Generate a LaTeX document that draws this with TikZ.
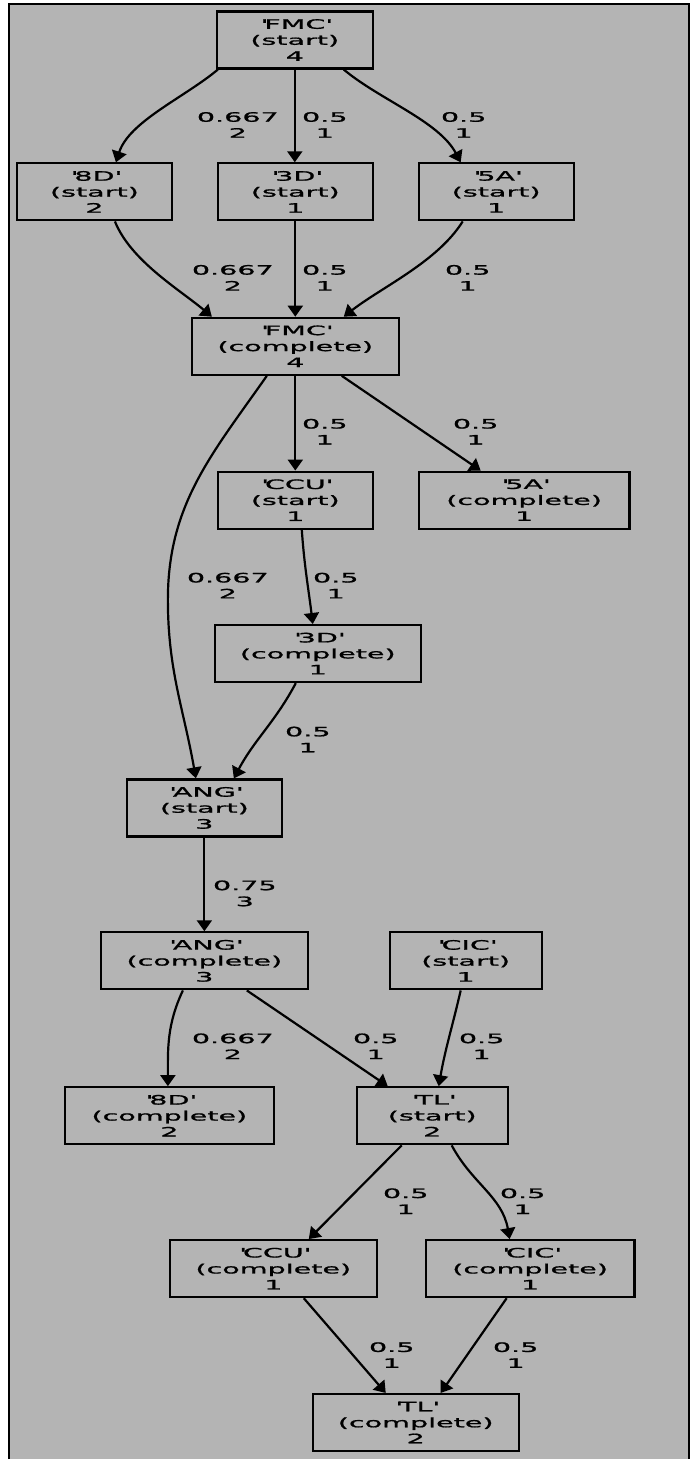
\documentclass[tikz,border=0pt]{standalone}
\usepackage{fontspec}
\usetikzlibrary{arrows.meta}
\newfontfamily\graphfont[FakeStretch=2.2,FakeBold=1.2]{DejaVu Sans}
\newcommand{\q}[1]{\textquotesingle#1\textquotesingle}
\definecolor{canvasgray}{RGB}{180,180,180}
\begin{document}
\begin{tikzpicture}[x=1pt,y=1pt,
  every node/.style={font=\graphfont\fontsize{13}{16}\selectfont, align=center, inner sep=0pt},
  stbox/.style={draw=black, line width=2.2pt, minimum width=155pt, minimum height=57pt},
  cpbox/.style={draw=black, line width=2.2pt, minimum width=207pt, minimum height=57pt},
  edge/.style={draw=black, line width=2.2pt, -{Triangle[length=11pt,width=15pt]}},
  lbl/.style={}]
% page and canvas frame
\fill[white] (0,0) rectangle (691,-1460);
\fill[canvasgray] (9,-4) rectangle (689,-1460);
\draw[black, line width=2pt] (9,-1460) -- (9,-4) -- (689,-4) -- (689,-1460);
\useasboundingbox (0,0) rectangle (691,-1460);

% activity nodes
\node[stbox, minimum width=156pt] (fmcS) at (295,-40) {\q{FMC}\\(start)\\4};
\node[stbox] (d8S) at (94.5,-192) {\q{8D}\\(start)\\2};
\node[stbox] (d3S) at (295.5,-192) {\q{3D}\\(start)\\1};
\node[stbox] (a5S) at (496.5,-192) {\q{5A}\\(start)\\1};
\node[cpbox] (fmcC) at (295.5,-346.5) {\q{FMC}\\(complete)\\4};
\node[stbox] (ccuS) at (295.5,-500.5) {\q{CCU}\\(start)\\1};
\node[cpbox, minimum width=211pt] (a5C) at (524.5,-500.5) {\q{5A}\\(complete)\\1};
\node[cpbox, minimum width=206pt] (d3C) at (318,-654) {\q{3D}\\(complete)\\1};
\node[stbox] (angS) at (204.5,-808.5) {\q{ANG}\\(start)\\3};
\node[cpbox] (angC) at (204.5,-961.5) {\q{ANG}\\(complete)\\3};
\node[stbox, minimum width=152pt] (cicS) at (466,-961.5) {\q{CIC}\\(start)\\1};
\node[cpbox, minimum width=209pt] (d8C) at (169.5,-1116.5) {\q{8D}\\(complete)\\2};
\node[stbox, minimum width=151pt] (tlS) at (432.5,-1116.5) {\q{TL}\\(start)\\2};
\node[cpbox] (ccuC) at (273.5,-1269.5) {\q{CCU}\\(complete)\\1};
\node[cpbox, minimum width=209pt] (cicC) at (530.5,-1269.5) {\q{CIC}\\(complete)\\1};
\node[cpbox, minimum width=206pt] (tlC) at (416,-1423.5) {\q{TL}\\(complete)\\2};

% bend point of the long FMC -> ANG edge
\coordinate (bendA) at (168,-600);

% transitions
\draw[edge] ([xshift=-77pt]fmcS.south) to[out=220,in=72,looseness=0.8] ([xshift=21.5pt]d8S.north);
\draw[edge] (fmcS.south) -- (fmcS.south |- d3S.north);
\draw[edge] ([xshift=49pt]fmcS.south) to[out=-40,in=118,looseness=0.8] ([xshift=-35.5pt]a5S.north);
\draw[edge] ([xshift=20.5pt]d8S.south) to[out=-68,in=140,looseness=0.8] ([xshift=-83.5pt]fmcC.north);
\draw[edge] (d3S.south) -- (d3S.south |- fmcC.north);
\draw[edge] ([xshift=-33.5pt]a5S.south) to[out=-122,in=38,looseness=0.8] ([xshift=48.5pt]fmcC.north);
\draw[edge] (fmcC.south) -- (fmcC.south |- ccuS.north);
\draw[edge] ([xshift=46.5pt]fmcC.south) -- ([xshift=-43.5pt]a5C.north);
\draw[edge] ([xshift=-28.5pt]fmcC.south) to[out=235,in=90] (bendA) to[out=-90,in=100] ([xshift=-8.5pt]angS.north);
\draw[edge] ([xshift=6.5pt]ccuS.south) to[out=-86,in=97] ([xshift=-5pt]d3C.north);
\draw[edge] ([xshift=-22pt]d3C.south) to[out=-118,in=62] ([xshift=29.5pt]angS.north);
\draw[edge] (angS.south) -- (angC.north);
\draw[edge] ([xshift=-21.5pt]angC.south) to[out=-115,in=90] ([xshift=-1.5pt]d8C.north);
\draw[edge] ([xshift=42.5pt]angC.south) -- ([xshift=-44.5pt]tlS.north);
\draw[edge] ([xshift=-5pt]cicS.south) to[out=-103,in=80] ([xshift=6.5pt]tlS.north);
\draw[edge] ([xshift=-30.5pt]tlS.south) -- ([xshift=35.5pt]ccuC.north);
\draw[edge] ([xshift=19.5pt]tlS.south) to[out=-62,in=100] ([xshift=-20.5pt]cicC.north);
\draw[edge] ([xshift=30.5pt]ccuC.south) -- ([xshift=-30pt]tlC.north);
\draw[edge] ([xshift=-23.5pt]cicC.south) -- ([xshift=25pt]tlC.north);

% transition labels
\node[lbl] (l1) at (238,-125) {0.667\\2};
\node[lbl] (l2) at (325,-125) {0.5\\1};
\node[lbl] (l3) at (464,-125) {0.5\\1};
\node[lbl] (l4) at (233,-278) {0.667\\2};
\node[lbl] (l5) at (325,-278) {0.5\\1};
\node[lbl] (l6) at (468,-278) {0.5\\1};
\node[lbl] (l7) at (325,-432) {0.5\\1};
\node[lbl] (l8) at (476,-432) {0.5\\1};
\node[lbl] (l9) at (228,-586) {0.667\\2};
\node[lbl] (l10) at (336,-586) {0.5\\1};
\node[lbl] (l11) at (308,-740) {0.5\\1};
\node[lbl] (l12) at (245,-894) {0.75\\3};
\node[lbl] (l13) at (233,-1047) {0.667\\2};
\node[lbl] (l14) at (376,-1047) {0.5\\1};
\node[lbl] (l15) at (482,-1047) {0.5\\1};
\node[lbl] (l16) at (406,-1202) {0.5\\1};
\node[lbl] (l17) at (523,-1202) {0.5\\1};
\node[lbl] (l18) at (392,-1356) {0.5\\1};
\node[lbl] (l19) at (516,-1356) {0.5\\1};
\end{tikzpicture}
\end{document}
